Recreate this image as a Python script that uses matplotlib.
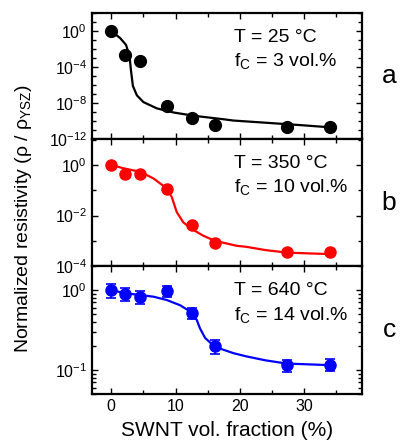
import numpy as np
import matplotlib
matplotlib.use("Agg")
import matplotlib.pyplot as plt
from matplotlib.ticker import LogLocator, MultipleLocator, NullFormatter

plt.rcParams["font.family"] = ["Liberation Sans", "DejaVu Sans"]
plt.rcParams["mathtext.fontset"] = "custom"
plt.rcParams["mathtext.rm"] = "Liberation Sans"
plt.rcParams["mathtext.it"] = "Liberation Sans:italic"
plt.rcParams["mathtext.bf"] = "Liberation Sans:bold"

# SWNT volume fraction (%) of the measured samples
swnt_frac = [0, 2.2, 4.5, 8.7, 12.5, 16.1, 27.3, 34.0]

# normalized resistivity, stored as log10 for the two low-T sets
rho_25C_log = [0, -2.65, -3.3, -8.3, -9.65, -10.45, -10.7, -10.7]
rho_350C_log = [0, -0.36, -0.36, -0.96, -2.36, -3.07, -3.43, -3.43]
rho_640C = [0.99, 0.90, 0.82, 0.96, 0.51, 0.20, 0.115, 0.117]
rho_640C_err = [0.19, 0.17, 0.16, 0.15, 0.08, 0.04, 0.02, 0.02]

# percolation fit curves
fit_25C_x = [0, 1.4, 2.3, 2.84, 3.05, 3.36, 3.98, 5.0, 7.1, 9.65, 12.25, 13.8,
             17.4, 19.0, 24.2, 29.3, 34.0]
fit_25C_log = [0, -0.8, -1.55, -2.8, -4.3, -6.1, -7.15, -7.9, -8.6, -9.05,
               -9.35, -9.5, -9.8, -9.95, -10.2, -10.45, -10.7]
fit_350C_x = [0, 1.9, 4.5, 6.55, 8.64, 9.41, 10.19, 11.2, 12.5, 14.3, 16.1,
              19.5, 21.0, 24.0, 27.3, 34.0]
fit_350C_log = [0, -0.13, -0.27, -0.53, -0.93, -1.27, -1.87, -2.27, -2.53,
                -2.8, -3.0, -3.2, -3.24, -3.37, -3.47, -3.53]
fit_640C_x = [0, 2.17, 4.5, 6.56, 8.64, 10.7, 12.5, 13.3, 13.8, 14.6, 16.1,
              19.0, 21.0, 24.0, 27.3, 34.0]
fit_640C_log = [0, -0.04, -0.0625, -0.083, -0.125, -0.19, -0.28, -0.375,
                -0.48, -0.6, -0.71, -0.79, -0.83, -0.88, -0.92, -0.94]

temps = ["T = 25 °C", "T = 350 °C", "T = 640 °C"]
crit = ["f$_\\mathrm{C}$ = 3 vol.%", "f$_\\mathrm{C}$ = 10 vol.%",
        "f$_\\mathrm{C}$ = 14 vol.%"]
letters = ["a", "b", "c"]

fig = plt.figure(figsize=(4.0, 4.45), dpi=100)
W, H = 400, 445
left, right = 92, 362
edges = [13, 139, 266, 394]
axes = []
for i in range(3):
    ax = fig.add_axes([left / W, 1 - edges[i + 1] / H, (right - left) / W,
                       (edges[i + 1] - edges[i]) / H])
    axes.append(ax)

ax_a, ax_b, ax_c = axes

x = np.array(swnt_frac)
ax_a.plot(fit_25C_x, 10.0 ** np.array(fit_25C_log), color="black", lw=1.6)
ax_a.plot(x, 10.0 ** np.array(rho_25C_log), "o", color="black", ms=8.5)
ax_a.set_yscale("log")
ax_a.set_yticks([1e0, 1e-4, 1e-8, 1e-12])
ax_a.set_yticks([10.0 ** k for k in range(-12, 3)], minor=True)
ax_a.yaxis.set_minor_formatter(NullFormatter())
ax_a.set_ylim(1e-12, 1e2)

ax_b.plot(fit_350C_x, 10.0 ** np.array(fit_350C_log), color="red", lw=1.6)
ax_b.plot(x, 10.0 ** np.array(rho_350C_log), "o", color="red", ms=8)
ax_b.set_yscale("log")
ax_b.set_yticks([1e0, 1e-2, 1e-4])
ax_b.set_yticks([1e-3, 1e-1, 1e1], minor=True)
ax_b.yaxis.set_minor_formatter(NullFormatter())
ax_b.set_ylim(1e-4, 10.0 ** 1.03)

ax_c.plot(fit_640C_x, 10.0 ** np.array(fit_640C_log), color="blue", lw=1.6)
ax_c.errorbar(x, rho_640C, yerr=rho_640C_err, fmt="o", color="blue", ms=8,
              capsize=3.5, elinewidth=1.2, capthick=1.2)
ax_c.set_yscale("log")
ax_c.set_yticks([1e0, 1e-1])
ax_c.yaxis.set_minor_locator(LogLocator(base=10, subs=np.arange(2, 10), numticks=20))
ax_c.yaxis.set_minor_formatter(NullFormatter())
ax_c.set_ylim(0.05, 2.0)

for i, ax in enumerate(axes):
    ax.set_xlim(-3, 39)
    ax.xaxis.set_major_locator(MultipleLocator(10))
    ax.xaxis.set_minor_locator(MultipleLocator(5))
    ax.tick_params(which="both", direction="in", top=True, right=True,
                   labelsize=11.5, width=1.0)
    ax.tick_params(which="major", length=4.5)
    ax.tick_params(which="minor", length=3)
    for sp in ax.spines.values():
        sp.set_linewidth(1.6)
    if i < 2:
        ax.tick_params(labelbottom=False)
    ax.text(0.525, 0.77, temps[i], transform=ax.transAxes, fontsize=14,
            va="baseline")
    ax.text(0.525, 0.58, crit[i], transform=ax.transAxes, fontsize=14,
            va="baseline")
    ax.text(1.1, 0.5, letters[i], transform=ax.transAxes, fontsize=19,
            va="center", ha="center")

ax_c.set_xlabel("SWNT vol. fraction (%)", fontsize=15, labelpad=5)
fig.text(0.06, 0.51, "Normalized resistivity (ρ / ρ$_\\mathrm{YSZ}$)",
         rotation=90, fontsize=14, ha="center", va="center")

fig.savefig("out.png", dpi=100)
